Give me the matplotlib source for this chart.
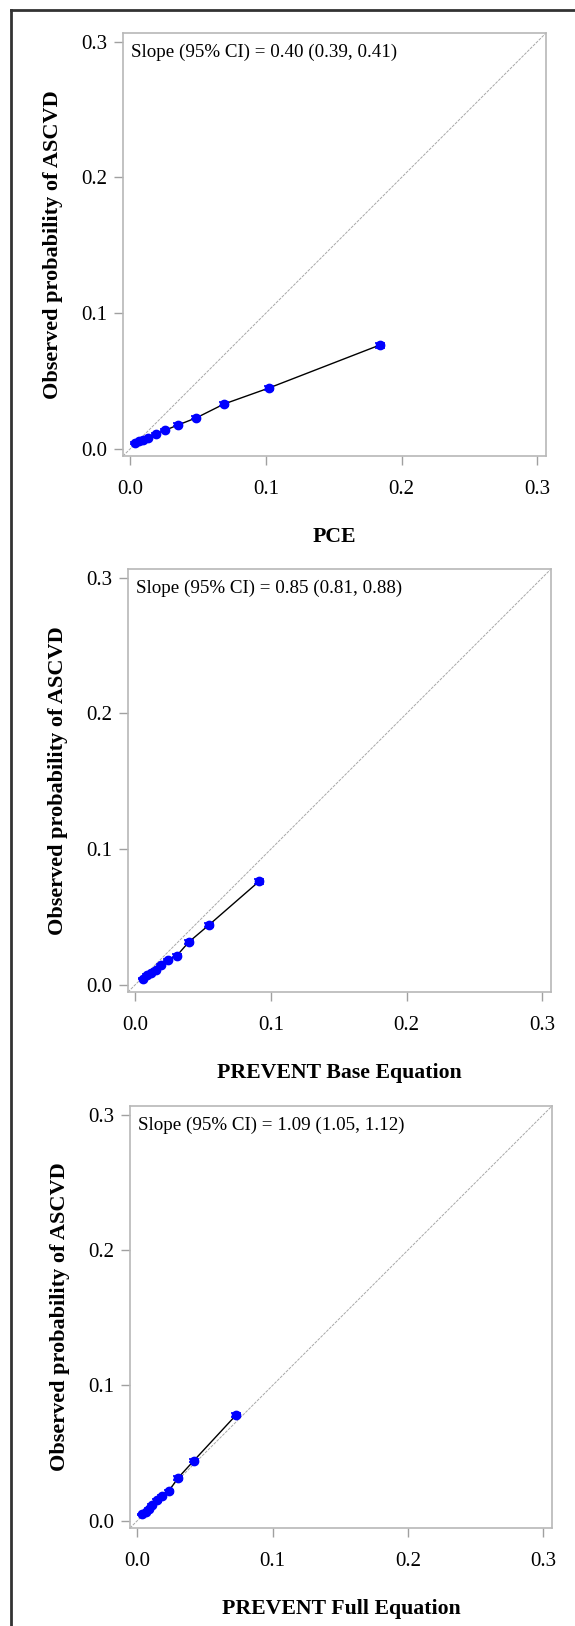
import matplotlib
matplotlib.use("Agg")
import matplotlib.pyplot as plt
from matplotlib.lines import Line2D

plt.rcParams['font.family'] = ['Liberation Serif', 'DejaVu Serif']

# calibration data, deciles of predicted risk
panel_names = ["PCE", "PREVENT Base Equation", "PREVENT Full Equation"]
slope_texts = ["Slope (95% CI) = 0.40 (0.39, 0.41)",
               "Slope (95% CI) = 0.85 (0.81, 0.88)",
               "Slope (95% CI) = 1.09 (1.05, 1.12)"]

pce_pred = [0.0035, 0.0062, 0.0091, 0.0128, 0.0185, 0.0258, 0.0354, 0.0487, 0.0689, 0.1020, 0.1838]
pce_obs = [0.0040, 0.0053, 0.0065, 0.0080, 0.0105, 0.0136, 0.0175, 0.0227, 0.0328, 0.0446, 0.0763]
pce_err = [0.0006, 0.0006, 0.0007, 0.0007, 0.0008, 0.0009, 0.0010, 0.0011, 0.0012, 0.0013, 0.0018]

base_pred = [0.0052, 0.0086, 0.0118, 0.0150, 0.0189, 0.0239, 0.0305, 0.0394, 0.0544, 0.0914]
base_obs = [0.0044, 0.0071, 0.0088, 0.0108, 0.0143, 0.0182, 0.0213, 0.0314, 0.0441, 0.0763]
base_err = [0.0006, 0.0007, 0.0007, 0.0008, 0.0009, 0.0010, 0.0011, 0.0012, 0.0014, 0.0018]

full_pred = [0.0035, 0.0064, 0.0087, 0.0111, 0.0141, 0.0181, 0.0232, 0.0299, 0.0418, 0.0729]
full_obs = [0.0046, 0.0061, 0.0088, 0.0118, 0.0149, 0.0181, 0.0218, 0.0314, 0.0444, 0.0780]
full_err = [0.0006, 0.0007, 0.0007, 0.0008, 0.0009, 0.0010, 0.0011, 0.0012, 0.0014, 0.0018]

preds = [pce_pred, base_pred, full_pred]
obs = [pce_obs, base_obs, full_obs]
errs = [pce_err, base_err, full_err]

W, H = 575, 1626
fig = plt.figure(figsize=(W / 100, H / 100), dpi=100)

# axes boxes in pixels: left, top, size
boxes = [(123, 33, 423), (128, 569, 423), (130, 1106, 422)]

lo, hi = -0.0055, 0.3065
for i in range(3):
    l, t, s = boxes[i]
    ax = fig.add_axes([l / W, 1 - (t + s) / H, s / W, s / H])
    ax.axline((0, 0), slope=1, color='#a8a8a8', lw=0.7, ls=(0, (3, 1.2)), zorder=1)
    ax.plot(preds[i], obs[i], color='black', lw=1.0, zorder=2)
    ax.errorbar(preds[i], obs[i], yerr=errs[i], fmt='o', color='blue', ms=6,
                ecolor='blue', elinewidth=1.2, capsize=3.5, capthick=1.2, zorder=3)
    ax.set_xlim(lo, hi)
    ax.set_ylim(lo, hi)
    ticks = [0.0, 0.1, 0.2, 0.3]
    ax.set_xticks(ticks)
    ax.set_yticks(ticks)
    ax.set_xticklabels([f"{v:.1f}" for v in ticks])
    ax.set_yticklabels([f"{v:.1f}" for v in ticks])
    ax.tick_params(direction='out', length=6.5, width=1, color='#a0a0a0', labelsize=15)
    ax.tick_params(axis='x', pad=11)
    ax.tick_params(axis='y', pad=5)
    for sp in ax.spines.values():
        sp.set_color('#b8b8b8')
        sp.set_linewidth(1.2)
    ax.text(0.02, 0.975, slope_texts[i], transform=ax.transAxes, ha='left', va='top',
            fontsize=13.7)
    ax.set_xlabel(panel_names[i], fontsize=15.7, fontweight='bold', labelpad=20)
    ax.set_ylabel("Observed probability of ASCVD", fontsize=16, fontweight='bold',
                  labelpad=13)

# outer frame (top and left edges)
fig.add_artist(Line2D([11 / W, 11 / W], [0, 1 - 10 / H], transform=fig.transFigure,
                      color='#333333', lw=2))
fig.add_artist(Line2D([11 / W, 1], [1 - 10 / H, 1 - 10 / H], transform=fig.transFigure,
                      color='#333333', lw=2))

fig.savefig("out.png", dpi=100, facecolor='white')
